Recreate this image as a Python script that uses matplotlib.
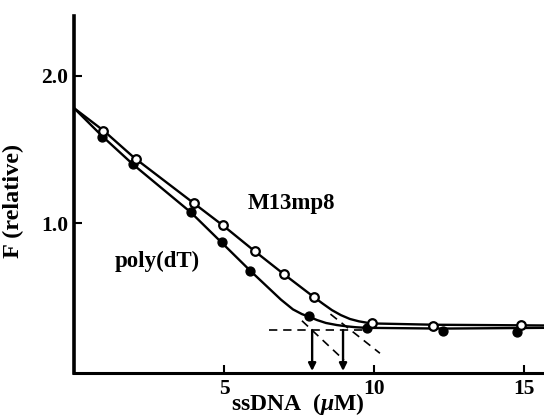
import matplotlib.pyplot as plt

plt.rcParams['font.family'] = ['Liberation Serif', 'DejaVu Serif']
plt.rcParams['font.weight'] = 'bold'
plt.rcParams['mathtext.fontset'] = 'custom'
plt.rcParams['mathtext.it'] = 'Liberation Serif:italic:bold'
plt.rcParams['mathtext.rm'] = 'Liberation Serif:bold'

# measured points
m13_x = [0.98, 2.07, 4.01, 4.98, 6.03, 7.01, 8.0, 9.94, 11.96, 14.9]
m13_y = [1.627, 1.434, 1.14, 0.988, 0.812, 0.654, 0.503, 0.325, 0.306, 0.311]
poly_x = [0.94, 1.96, 3.89, 4.92, 5.87, 7.84, 9.76, 12.3, 14.76]
poly_y = [1.587, 1.40, 1.074, 0.871, 0.679, 0.37, 0.288, 0.272, 0.266]

# drawn curves
m13_curve_x = [0, 1, 2, 4, 5, 6, 7, 8, 8.3, 8.6, 8.9, 9.2, 9.5, 9.9, 12, 15.7]
m13_curve_y = [1.78, 1.625, 1.445, 1.135, 0.98, 0.815, 0.655, 0.50, 0.455, 0.412, 0.378, 0.352, 0.336, 0.322, 0.313, 0.308]
poly_curve_x = [0, 0.94, 1.96, 3.89, 4.92, 5.87, 6.9, 7.3, 7.6, 7.84, 8.1, 8.4, 8.76, 9.1, 9.4, 9.76, 12.3, 15.7]
poly_curve_y = [1.78, 1.59, 1.40, 1.075, 0.87, 0.68, 0.483, 0.417, 0.385, 0.367, 0.345, 0.325, 0.311, 0.302, 0.296, 0.292, 0.287, 0.292]

# extrapolation guides
plateau_x = [6.5, 9.8]
plateau_y = [0.277, 0.277]
poly_ext_x = [7.6, 9.0]
poly_ext_y = [0.34, 0.074]
m13_ext_x = [8.55, 10.2]
m13_ext_y = [0.385, 0.12]
arrow_x = [7.94, 8.97]
arrow_top = 0.277

fig = plt.figure(figsize=(5.44, 4.19), dpi=100)
ax = fig.add_axes([0.136, 0.109, 0.864, 0.853])

ax.plot(m13_curve_x, m13_curve_y, color='black', lw=1.7, zorder=2)
ax.plot(poly_curve_x, poly_curve_y, color='black', lw=1.7, zorder=2)

dash = dict(color='black', lw=1.2, ls=(0, (5, 3.5)), zorder=1)
ax.plot(plateau_x, plateau_y, **dash)
ax.plot(poly_ext_x, poly_ext_y, **dash)
ax.plot(m13_ext_x, m13_ext_y, **dash)

for xa in arrow_x:
    ax.annotate('', xy=(xa, 0.0), xytext=(xa, arrow_top),
                arrowprops=dict(arrowstyle='-|>', color='black', lw=1.7,
                                mutation_scale=11, shrinkA=0, shrinkB=0))

ax.plot(poly_x, poly_y, 'o', color='black', ms=6.4, zorder=3)
ax.plot(m13_x, m13_y, 'o', mfc='white', mec='black', mew=1.6, ms=6.2, zorder=4)

ax.text(5.79, 1.10, 'M13mp8', fontsize=16.5, fontweight='bold', ha='left', va='baseline')
ax.text(1.37, 0.706, 'poly(dT)', fontsize=16.5, fontweight='bold', ha='left', va='baseline')

ax.set_xlim(0, 15.67)
ax.set_ylim(-0.016, 2.404)
ax.set_xticks([5, 10, 15])
ax.set_xticklabels(['5', '10', '15'])
ax.set_yticks([1.0, 2.0])
ax.set_yticklabels(['1.0', '2.0'])
ax.tick_params(direction='in', length=6, width=1.5, labelsize=15.5, pad=4)
for lab in ax.get_xticklabels() + ax.get_yticklabels():
    lab.set_fontweight('bold')

for side in ['top', 'right']:
    ax.spines[side].set_visible(False)
ax.spines['left'].set_linewidth(2.6)
ax.spines['bottom'].set_linewidth(2.2)

ax.set_ylabel('F (relative)', fontsize=17.5, fontweight='bold')
ax.yaxis.set_label_coords(-0.106, 0.482)
fig.text(0.548, 1 - 417 / 419, r'ssDNA  ($\mu$M)', fontsize=17, fontweight='bold',
         ha='center', va='bottom')

fig.savefig('out.png', dpi=100)
